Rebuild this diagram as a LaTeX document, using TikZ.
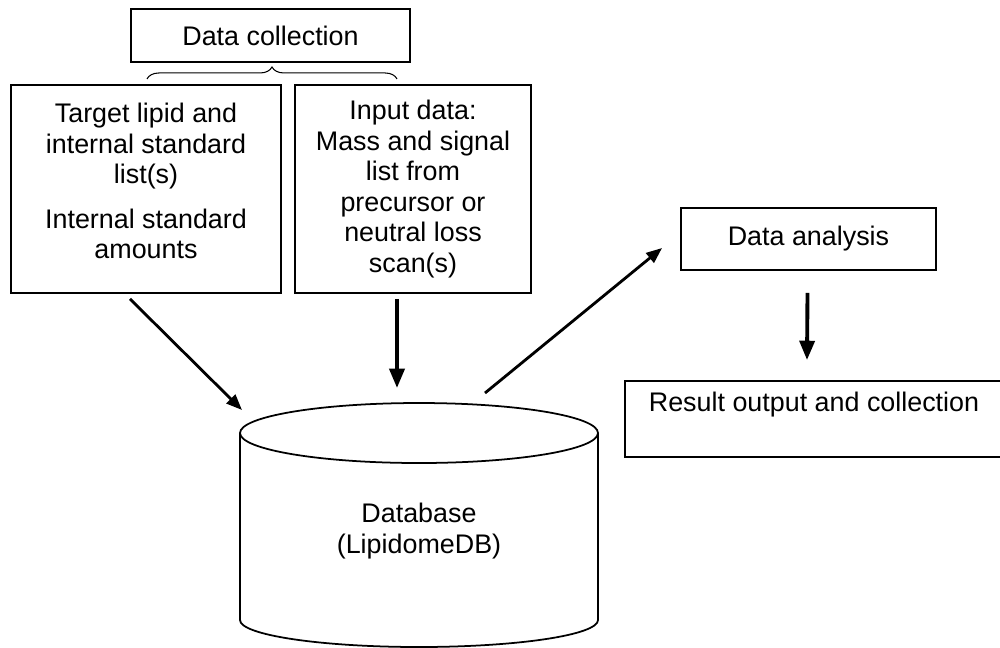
\documentclass[tikz,border=0pt]{standalone}
\usepackage{fontspec}
\setmainfont{Liberation Sans}
\usetikzlibrary{positioning, calc, arrows.meta, decorations.pathreplacing}

\newcommand{\flowfont}{\fontsize{15.3pt}{17.4pt}\selectfont}

\tikzset{
    box/.style={draw, line width=1.1pt, inner sep=0pt, font=\flowfont, align=center},
    txt/.style={inner sep=0pt, font=\flowfont, align=center},
    arr/.style={line width=1.6pt, -{Triangle[length=9pt, width=7pt]}},
    bigarr/.style={line width=2.2pt, -{Triangle[length=11pt, width=8.5pt]}},
}

\begin{document}
\begin{tikzpicture}[x=0.02cm, y=-0.02cm]
    \useasboundingbox (0,0) rectangle (1000,647);

    \node[box, minimum width=5.58cm, minimum height=1.06cm] (collect) at (270.5, 35.5) {Data collection};
    \node[box, minimum width=5.4cm, minimum height=4.16cm] (target) at (146, 189) {};
    \node[txt] (targettext) at (146, 181) {Target lipid and\\internal standard\\list(s)\\[8pt]Internal standard\\amounts};
    \node[box, minimum width=4.72cm, minimum height=4.16cm] (input) at (413, 189) {Input data:\\Mass and signal\\list from\\precursor or\\neutral loss\\scan(s)};
    \node[box, minimum width=5.1cm, minimum height=1.24cm] (analysis) at (808.5, 239) {Data analysis};
    \node[box, minimum width=7.56cm, minimum height=1.52cm, text height=11pt, text depth=19.4pt] (result) at (814, 419) {Result output and collection};
    \node[txt] (db) at (419, 531) {Database\\(LipidomeDB)};

    % database cylinder
    \draw[line width=1pt] (419, 433) ellipse [x radius=179, y radius=30];
    \draw[line width=1pt] (240, 433) -- (240, 620) arc[start angle=180, end angle=0, x radius=179, y radius=27] -- (598, 433);

    % brace under data collection
    \draw[line width=0.6pt, decorate, decoration={brace, amplitude=0.24cm}] ($(collect.south)+(-123.5, 16)$) -- ($(collect.south)+(126.5, 16)$);

    \coordinate (dbleft) at (242, 410);
    \coordinate (dbtop) at (397, 388);
    \coordinate (dbright) at (485, 393);

    \draw[arr] ($(target.south)+(-16, 5)$) -- (dbleft);
    \draw[bigarr] ($(input.south)+(-16, 5)$) -- (dbtop);
    \draw[arr] (dbright) -- ($(analysis.west)+(-18, 9)$);
    \draw[bigarr] ($(analysis.south)+(-1, 22)$) -- ($(result.north)+(-7, -20)$);

\end{tikzpicture}
\end{document}
